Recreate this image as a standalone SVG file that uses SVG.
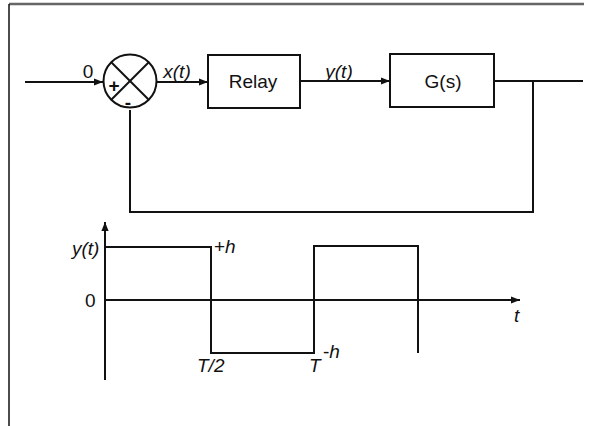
<svg xmlns="http://www.w3.org/2000/svg" width="590" height="426" viewBox="0 0 590 426">
<defs>
<marker id="arr" viewBox="0 0 10 10" refX="10" refY="5" markerWidth="4.5" markerHeight="4.5" orient="auto" markerUnits="strokeWidth">
<path d="M0,1 L10,5 L0,9 Z" fill="#111"/>
</marker>
<style>
.ln{stroke:#111;stroke-width:2;fill:none}
.box{stroke:#111;stroke-width:2;fill:#fff}
.t{font-family:"Liberation Sans",Arial,sans-serif;font-size:19px;fill:#111}
.i{font-style:italic}
</style>
</defs>
<rect width="590" height="426" fill="#fff"/>
<line x1="9" y1="4" x2="584" y2="4" stroke="#666" stroke-width="2.5"/>
<line x1="9" y1="4" x2="9" y2="426" stroke="#111" stroke-width="1.5"/>

<g id="connectors">
<line class="ln" x1="25" y1="82" x2="103" y2="82" marker-end="url(#arr)"/>
<line class="ln" x1="157" y1="82" x2="208" y2="82" marker-end="url(#arr)"/>
<line class="ln" x1="300" y1="81" x2="390" y2="81" marker-end="url(#arr)"/>
<polyline class="ln" points="494,81 583,81"/>
<polyline class="ln" points="533,81 533,212 130,212 130,110"/>
</g>

<g id="sum">
<circle class="ln" cx="130" cy="81" r="26.5"/>
<line class="ln" x1="111" y1="62" x2="149" y2="100"/>
<line class="ln" x1="149" y1="62" x2="111" y2="100"/>
<text class="t" x="114" y="92" text-anchor="middle" font-size="22" font-weight="bold">+</text>
<text class="t" x="128" y="109" text-anchor="middle" font-size="20" font-weight="bold">-</text>
</g>
<text class="t" x="88" y="78" text-anchor="middle" font-size="20">0</text>
<text class="t i" x="177" y="78" text-anchor="middle" font-size="20">x(t)</text>

<g id="relay">
<rect class="box" x="208" y="55" width="92" height="53"/>
<text class="t" x="253" y="88" text-anchor="middle">Relay</text>
</g>
<text class="t i" x="339" y="78" text-anchor="middle" font-size="20">y(t)</text>

<g id="plant">
<rect class="box" x="390" y="54" width="104" height="53"/>
<text class="t" x="443" y="88" text-anchor="middle">G(s)</text>
</g>

<g id="plot">
<line class="ln" x1="105" y1="380" x2="105" y2="222" marker-end="url(#arr)"/>
<line class="ln" x1="105" y1="300" x2="520" y2="300" marker-end="url(#arr)"/>
<polyline class="ln" points="105,247 211,247 211,353 314,353 314,246 418,246 418,353"/>
<text class="t i" x="72" y="255">y(t)</text>
<text class="t" x="85" y="307">0</text>
<text class="t" x="214" y="253">+<tspan class="i">h</tspan></text>
<text class="t i" x="197" y="372">T/2</text>
<text class="t i" x="309" y="372">T</text>
<text class="t" x="323" y="358" font-size="17">-<tspan class="i">h</tspan></text>
<text class="t i" x="514" y="322" font-size="20">t</text>
</g>
</svg>
